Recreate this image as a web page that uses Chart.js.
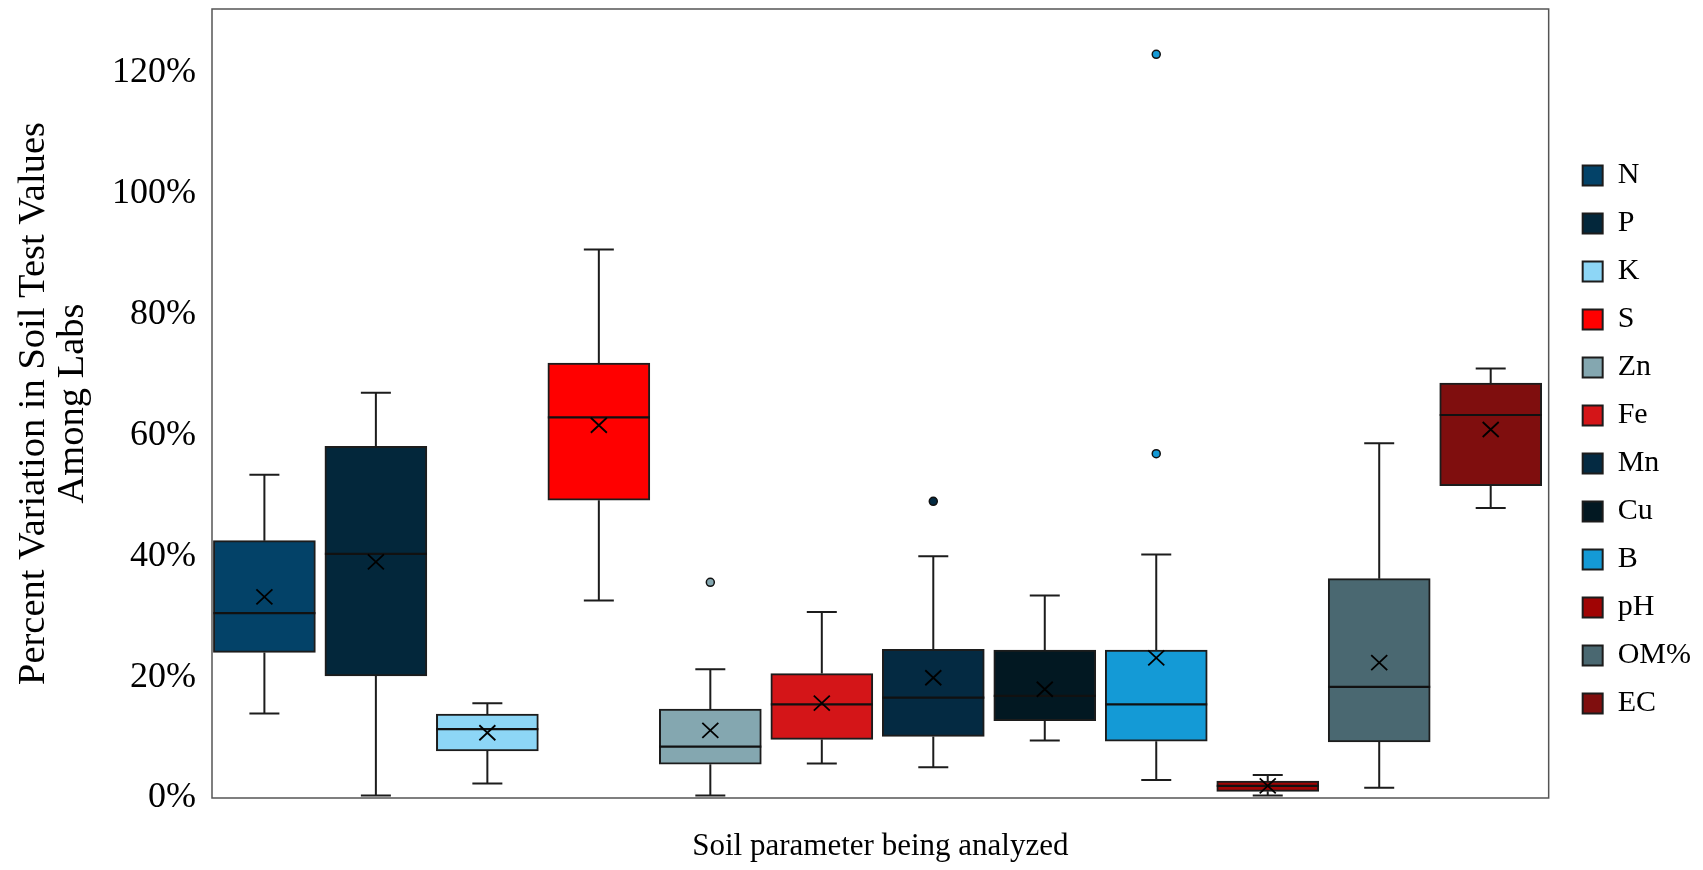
<!DOCTYPE html>
<html>
<head>
<meta charset="utf-8">
<script src="https://cdn.jsdelivr.net/npm/chart.js@4.4.1/dist/chart.umd.min.js"></script>
<style>
  html, body { margin: 0; padding: 0; background: #ffffff; }
  #wrap { width: 1703px; height: 870px; }
</style>
</head>
<body>
<div id="wrap"><canvas id="chart" width="1703" height="870"></canvas></div>
<script>
// Spread of soil test results among labs, one box per soil parameter (values in %)
const parameters  = ['N', 'P', 'K', 'S', 'Zn', 'Fe', 'Mn', 'Cu', 'B', 'pH', 'OM%', 'EC'];
const whiskerLow  = [14.0,  0.4,  2.4, 32.7,  0.4,  5.7,  5.1,  9.5,  3.0, 0.4,  1.7, 48.0];
const quartile1   = [24.1, 20.2,  7.8, 49.3,  5.6,  9.7, 10.2, 12.8,  9.4, 1.1,  9.3, 51.7];
const medians     = [30.6, 40.4, 11.4, 63.0,  8.5, 15.5, 16.6, 16.9, 15.5, 2.0, 18.4, 63.4];
const quartile3   = [42.6, 58.2, 13.9, 72.0, 14.7, 20.6, 24.6, 24.5, 24.5, 2.8, 36.3, 68.7];
const whiskerHigh = [53.5, 67.1, 15.7, 90.8, 21.3, 30.8, 40.0, 33.5, 40.3, 3.8, 58.7, 71.1];
const means       = [33.3, 39.1, 10.8, 61.7, 11.2, 15.7, 19.9, 18.0, 23.2, 2.0, 22.4, 61.0];
const outliers    = [[], [], [], [], [35.7], [], [49.1], [], [123.1, 57.0], [], [], []];
const boxColors   = ['#034268', '#03273b', '#8dd6f6', '#ff0000', '#84a7b0', '#d41518',
                     '#042a42', '#021822', '#149ad6', '#a00404', '#4a6871', '#7f0e0e'];
const yTicks      = [0, 20, 40, 60, 80, 100, 120];

const SERIF = "'Liberation Serif', 'Times New Roman', serif";
const INK = '#1c1c1c';

// Whiskers, medians, mean crosses and outlier dots, placed with the chart's own scales
const boxPlotMarks = {
  id: 'boxPlotMarks',
  beforeDatasetsDraw(chart) {
    const ctx = chart.ctx;
    const y = chart.scales.y;
    ctx.save();
    ctx.strokeStyle = INK;
    ctx.lineWidth = 2;
    chart.data.datasets.forEach((ds, i) => {
      const bar = chart.getDatasetMeta(i).data[0];
      if (!bar) return;
      const x = bar.x;
      const cap = 15;
      const segs = [[quartile3[i], whiskerHigh[i]], [quartile1[i], whiskerLow[i]]];
      segs.forEach(([from, to]) => {
        const y0 = y.getPixelForValue(from);
        const y1 = y.getPixelForValue(to);
        ctx.beginPath();
        ctx.moveTo(x, y0);
        ctx.lineTo(x, y1);
        ctx.moveTo(x - cap, y1);
        ctx.lineTo(x + cap, y1);
        ctx.stroke();
      });
    });
    ctx.restore();
  },
  afterDatasetsDraw(chart) {
    const ctx = chart.ctx;
    const y = chart.scales.y;
    ctx.save();
    chart.data.datasets.forEach((ds, i) => {
      const bar = chart.getDatasetMeta(i).data[0];
      if (!bar) return;
      const x = bar.x;
      const half = bar.width / 2;
      // median
      const ym = y.getPixelForValue(medians[i]);
      ctx.strokeStyle = '#111111';
      ctx.lineWidth = 2.2;
      ctx.beginPath();
      ctx.moveTo(x - half, ym);
      ctx.lineTo(x + half, ym);
      ctx.stroke();
      // mean cross
      const ya = y.getPixelForValue(means[i]);
      ctx.lineWidth = 1.8;
      ctx.strokeStyle = '#000000';
      ctx.beginPath();
      ctx.moveTo(x - 8, ya - 7.5);
      ctx.lineTo(x + 8, ya + 7.5);
      ctx.moveTo(x + 8, ya - 7.5);
      ctx.lineTo(x - 8, ya + 7.5);
      ctx.stroke();
      // outliers
      outliers[i].forEach(v => {
        const yo = y.getPixelForValue(v);
        ctx.beginPath();
        ctx.arc(x, yo, 4, 0, Math.PI * 2);
        ctx.fillStyle = boxColors[i];
        ctx.fill();
        ctx.lineWidth = 1.5;
        ctx.strokeStyle = '#111111';
        ctx.stroke();
      });
    });
    ctx.restore();
  },
  afterDraw(chart) {
    const {left, top, right, bottom} = chart.chartArea;
    const ctx = chart.ctx;
    ctx.save();
    ctx.strokeStyle = '#555555';
    ctx.lineWidth = 1.5;
    ctx.strokeRect(left, top, right - left, bottom - top);
    ctx.restore();
  }
};

// one dataset per parameter, each box sitting at its own slot index on x
const datasets = parameters.map((name, i) => ({
  label: name,
  data: [{ x: i, y: [quartile1[i], quartile3[i]] }],
  backgroundColor: boxColors[i],
  borderColor: INK,
  borderWidth: 2,
  borderSkipped: false,
  grouped: false,
  barThickness: 102
}));

new Chart(document.getElementById('chart'), {
  type: 'bar',
  data: { datasets },
  plugins: [boxPlotMarks],
  options: {
    responsive: false,
    animation: false,
    devicePixelRatio: 1,
    layout: { padding: { top: 9, right: 2, bottom: 0, left: 0 } },
    plugins: {
      tooltip: { enabled: false },
      legend: {
        position: 'right',
        labels: {
          font: { family: SERIF, size: 30 },
          color: '#000000',
          boxWidth: 20,
          boxHeight: 20,
          padding: 18
        }
      }
    },
    scales: {
      x: {
        type: 'linear',
        min: -0.47,
        max: 11.52,
        offset: false,
        grid: { display: false, drawTicks: false },
        border: { display: false },
        ticks: { display: false },
        title: {
          display: true,
          text: 'Soil parameter being analyzed',
          color: '#000000',
          font: { family: SERIF, size: 31, lineHeight: 1.1 },
          padding: { top: 0, bottom: 6 }
        },
        afterFit(scale) {
          scale.height = 72;
          scale.paddingLeft = 0;
          scale.paddingRight = 0;
        }
      },
      y: {
        min: 0,
        max: 130.6,
        grid: { display: false, drawTicks: false },
        border: { display: false },
        ticks: {
          color: '#000000',
          font: { family: SERIF, size: 36 },
          padding: 16,
          callback: v => v + '%'
        },
        afterBuildTicks(scale) { scale.ticks = yTicks.map(v => ({ value: v })); },
        title: {
          display: true,
          text: ['Percent Variation in Soil Test Values', 'Among Labs'],
          color: '#000000',
          font: { family: SERIF, size: 38.5, lineHeight: 1.02 },
          padding: { top: 14, bottom: 0 }
        },
        afterFit(scale) {
          scale.width = 212;
          scale.paddingTop = 0;
          scale.paddingBottom = 0;
        }
      },
      gap: {
        axis: 'y',
        position: 'right',
        grid: { display: false, drawTicks: false },
        border: { display: false },
        ticks: { display: false },
        afterFit(scale) { scale.width = 16; }
      }
    }
  }
});
</script>
</body>
</html>
